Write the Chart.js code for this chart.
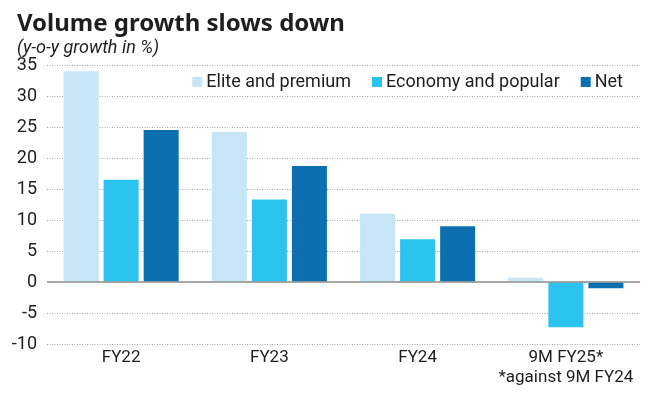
<!DOCTYPE html>
<html>
<head>
<meta charset="utf-8">
<script src="https://cdn.jsdelivr.net/npm/chart.js@4.4.1/dist/chart.umd.min.js"></script>
<style>
  html, body { margin: 0; padding: 0; background: #fff; }
  #wrap { width: 660px; height: 395px; position: relative; }
</style>
</head>
<body>
<div id="wrap"><canvas id="chart"></canvas></div>
<script>
const categories = ['FY22', 'FY23', 'FY24', ['9M FY25*', '*against 9M FY24']];
const elitePremium = [34.0, 24.2, 11.0, 0.7];
const economyPopular = [16.5, 13.3, 6.9, -7.3];
const net = [24.5, 18.7, 9.0, -1.0];
const yTicks = [35, 30, 25, 20, 15, 10, 5, 0, -5, -10];

const colors = {
    light: '#c6e6f8',
    cyan: '#2cc3ef',
    dark: '#0b6fb0',
    text: '#1e1e1e',
    grid: '#a8a8a8',
    zero: '#8a8a8a'
};

const condensed = '"Roboto", sans-serif';

// title, subtitle, legend and zero line
const decorations = {
    id: 'decorations',
    afterDatasetsDraw(chart) {
        const ctx = chart.ctx;
        const area = chart.chartArea;
        const y = chart.scales.y;

        ctx.save();
        const y0 = y.getPixelForValue(0);
        ctx.strokeStyle = colors.zero;
        ctx.lineWidth = 1.5;
        ctx.beginPath();
        ctx.moveTo(area.left, y0);
        ctx.lineTo(area.right, y0);
        ctx.stroke();

        ctx.fillStyle = colors.text;
        ctx.textBaseline = 'alphabetic';
        ctx.textAlign = 'left';
        ctx.font = 'bold 24px "Noto Sans", sans-serif';
        ctx.fillText('Volume growth slows down', 17, 31);
        ctx.font = 'italic 18px ' + condensed;
        ctx.fillText('(y-o-y growth in %)', 17, 53);

        // legend, right aligned
        ctx.font = '18px ' + condensed;
        const items = chart.data.datasets.map(d => ({ label: d.label, color: d.backgroundColor }));
        let x = area.right - 17;
        const ly = 87;
        for (let i = items.length - 1; i >= 0; i--) {
            const w = ctx.measureText(items[i].label).width;
            x -= w;
            ctx.fillStyle = colors.text;
            ctx.fillText(items[i].label, x, ly);
            ctx.fillStyle = items[i].color;
            ctx.fillRect(x - 14, ly - 10, 10, 10);
            x -= 14 + 21;
        }
        ctx.restore();
    }
};

const ctx = document.getElementById('chart').getContext('2d');

const chart = new Chart(ctx, {
    type: 'bar',
    data: {
        labels: categories,
        datasets: [{
            label: 'Elite and premium',
            data: elitePremium,
            backgroundColor: colors.light
        }, {
            label: 'Economy and popular',
            data: economyPopular,
            backgroundColor: colors.cyan
        }, {
            label: 'Net',
            data: net,
            backgroundColor: colors.dark
        }]
    },
    options: {
        responsive: true,
        maintainAspectRatio: false,
        animation: false,
        layout: {
            padding: { top: 65, right: 20, left: 0, bottom: 0 }
        },
        datasets: {
            bar: {
                categoryPercentage: 0.81,
                barPercentage: 0.875
            }
        },
        plugins: {
            legend: { display: false },
            tooltip: { enabled: false }
        },
        scales: {
            y: {
                min: -10,
                max: 35,
                afterBuildTicks: function(scale) {
                    scale.ticks = yTicks.map(v => ({ value: v }));
                },
                afterFit: function(scale) {
                    scale.width = 47;
                },
                border: { display: false, dash: [1, 1.5] },
                grid: {
                    drawTicks: false,
                    color: function(c) {
                        return c.tick && c.tick.value === 0 ? 'rgba(0,0,0,0)' : colors.grid;
                    },
                    lineWidth: 1
                },
                ticks: {
                    padding: 10,
                    color: colors.text,
                    font: { family: condensed, size: 18 }
                }
            },
            x: {
                afterFit: function(scale) {
                    scale.height = 51;
                },
                border: { display: false },
                grid: { display: false, drawTicks: false },
                ticks: {
                    padding: 4,
                    color: colors.text,
                    maxRotation: 0,
                    font: { family: condensed, size: 17, lineHeight: 1.18 }
                }
            }
        }
    },
    plugins: [decorations]
});
</script>
</body>
</html>
